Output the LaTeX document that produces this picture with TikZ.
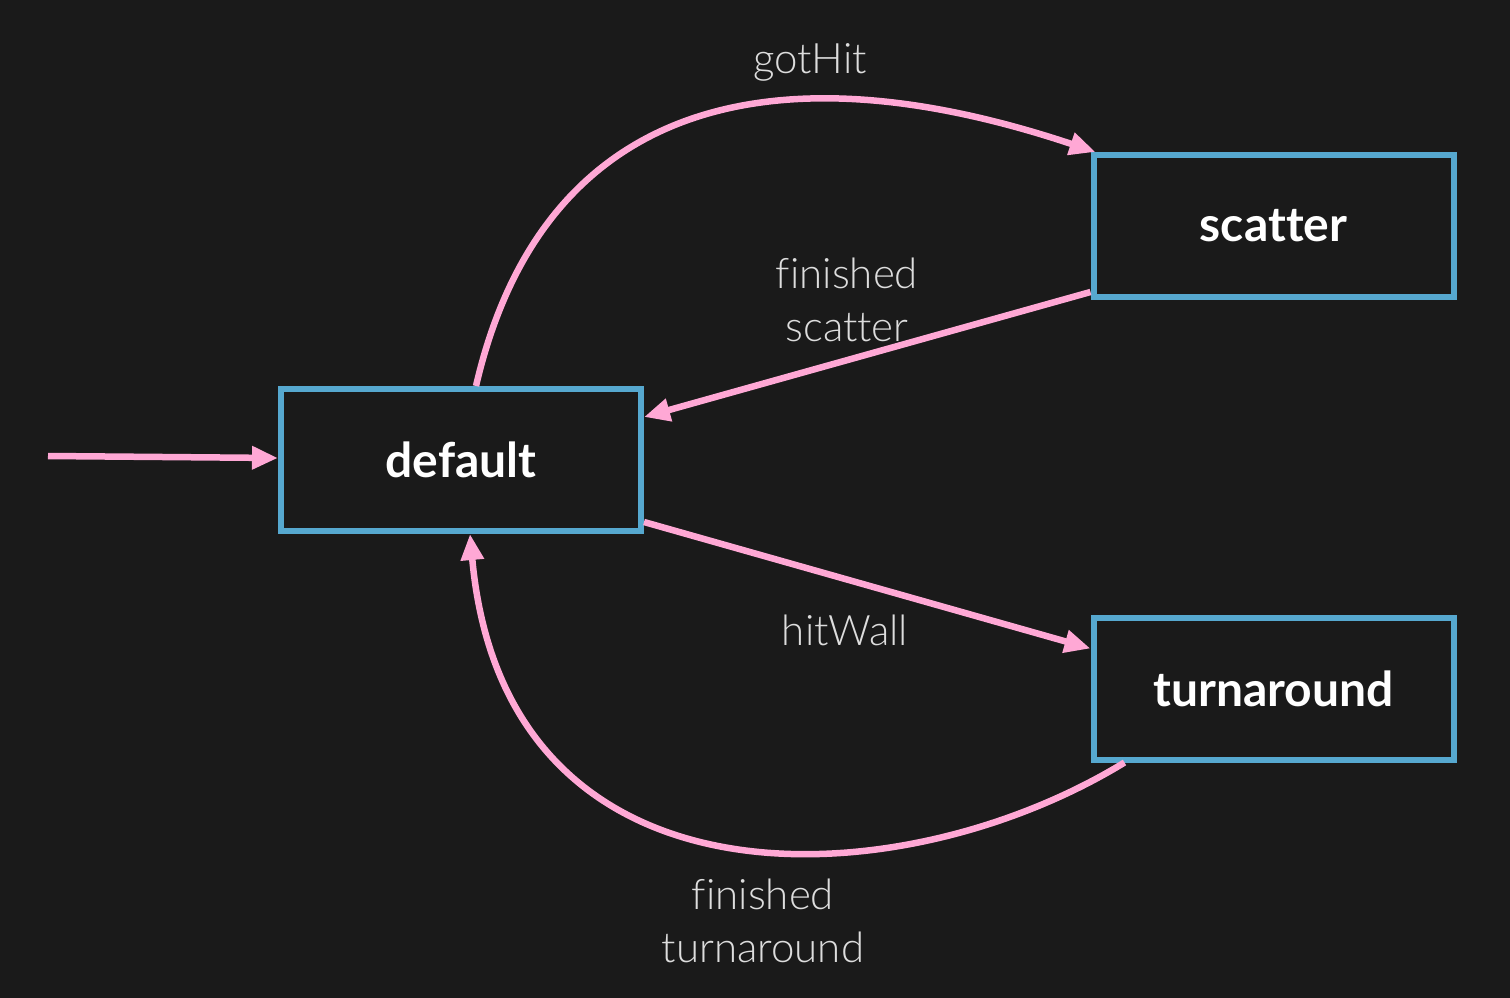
\documentclass[tikz,border=0pt]{standalone}
\usepackage{fontspec}
\setmainfont{Lato}[Ligatures=NoCommon]
\newfontfamily\lightfont{Lato Light}[Ligatures=NoCommon]
\usetikzlibrary{arrows.meta,calc}
\definecolor{bg}{HTML}{1A1A1A}
\definecolor{boxblue}{HTML}{56A8CF}
\definecolor{edgepink}{HTML}{FFA8D5}
\definecolor{labelgray}{HTML}{DDDDDD}
\tikzset{
  state/.style={draw=boxblue, line width=6pt, minimum width=360pt, minimum height=142pt,
    inner sep=0pt, text=white, font=\fontsize{48}{53}\selectfont\bfseries},
  trans/.style={draw=edgepink, line width=6.5pt, -{Triangle[length=26pt,width=22pt]}},
  lbl/.style={text=labelgray, align=center, font=\lightfont\fontsize{42}{53}\selectfont}
}
\begin{document}
\begin{tikzpicture}[x=1pt,y=-1pt]
\fill[bg] (0,0) rectangle (1510,998);
\useasboundingbox (0,0) rectangle (1510,998);
\node[state] (default) at (461,460) {default};
\node[state] (scatter) at (1273.5,226) {scatter};
\node[state] (turn) at (1273.5,688.5) {turnaround};
\coordinate (init) at (48,456);
\draw[trans] (init) -- ([yshift=2pt]default.west);
\draw[trans] ([xshift=15pt]default.north) .. controls (540,110) and (760,40) .. ([xshift=5pt]scatter.north west);
\draw[trans] ([yshift=8pt]scatter.south west) -- ([yshift=-31pt]default.north east);
\draw[trans] ([yshift=12pt]default.south east) -- ([yshift=40pt]turn.west);
\draw[trans] ([xshift=34pt]turn.south west) .. controls (900,900) and (505,920) .. ([xshift=9pt]default.south);
\node[lbl] (l1) at (810,62) {gotHit};
\node[lbl] (l2) at (847,300) {finished\\scatter};
\node[lbl] (l3) at (845,630) {hitWall};
\node[lbl] (l4) at (763,921) {finished\\turnaround};
\end{tikzpicture}
\end{document}
